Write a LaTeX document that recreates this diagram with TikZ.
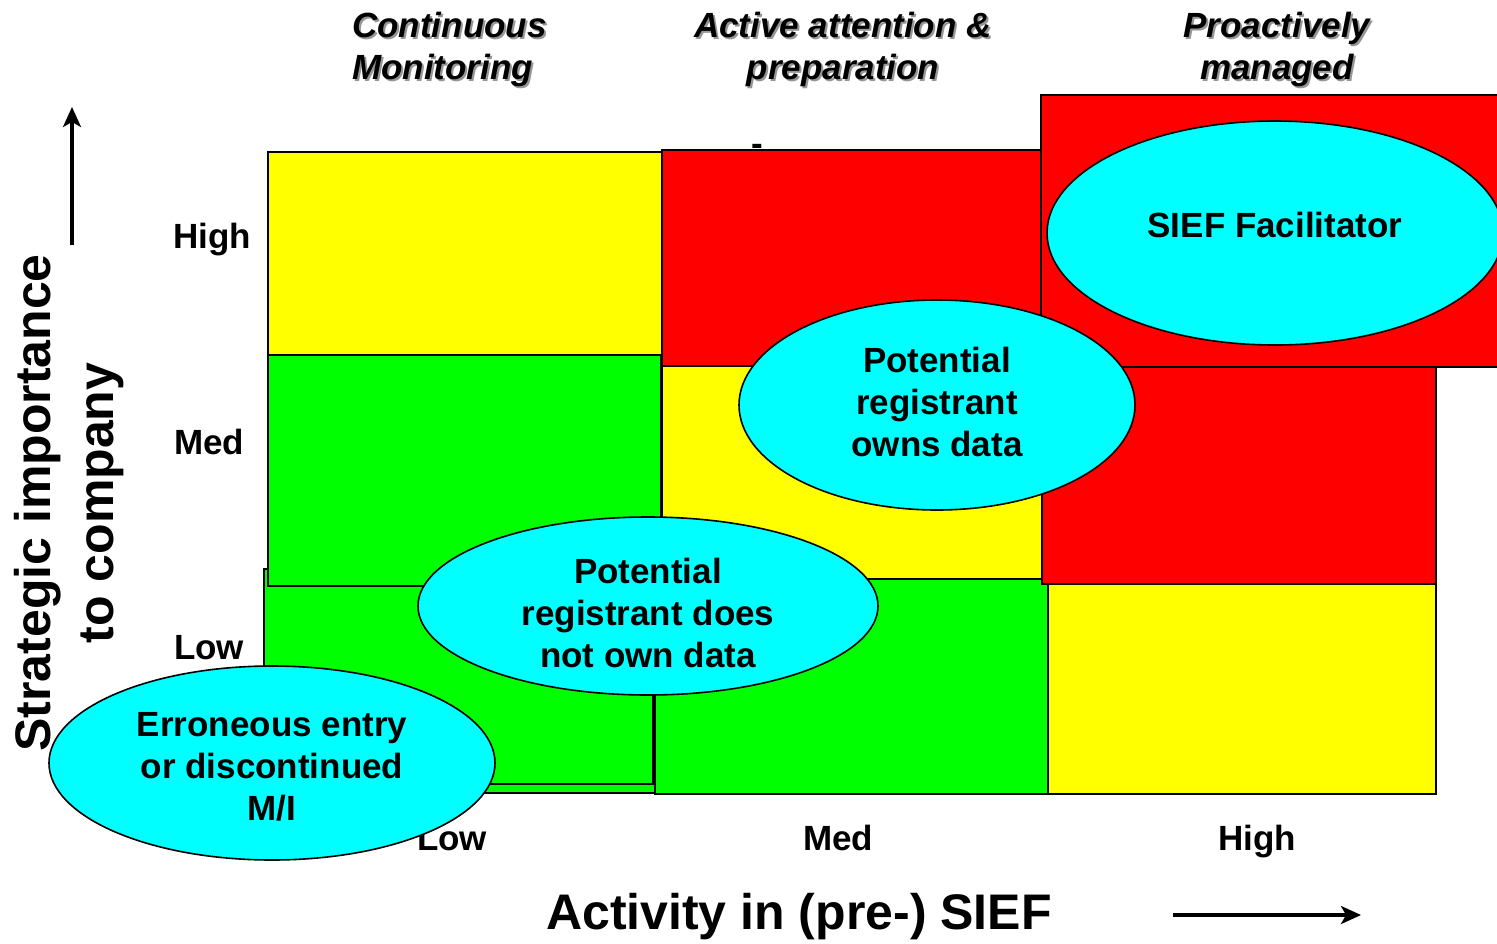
\documentclass[tikz,border=0pt]{standalone}
\usepackage{fontspec}
\setmainfont{Liberation Sans}
\usetikzlibrary{shapes.geometric,arrows.meta}
\definecolor{cYel}{RGB}{255,255,0}
\definecolor{cRed}{RGB}{255,0,0}
\definecolor{cGrn}{RGB}{0,255,0}
\definecolor{cCyn}{RGB}{0,255,255}
\definecolor{cShd}{RGB}{150,150,150}
\newcommand\mylabfont{\bfseries\fontsize{35}{42}\selectfont}
\newcommand\myheadfont{\bfseries\itshape\fontsize{35}{42}\selectfont}
\newcommand\mybigfont{\bfseries\fontsize{50}{63}\selectfont}
\tikzset{
  cell/.style={draw=black, line width=2pt},
  bubble/.style={ellipse, draw=black, line width=1.6pt, fill=cCyn, inner sep=0pt, align=center, font=\mylabfont},
  lab/.style={font=\mylabfont, inner sep=0pt},
  head/.style={font=\myheadfont, inner sep=0pt},
  shadowtxt/.style={head, text=cShd},
  big/.style={font=\mybigfont, inner sep=0pt, align=center},
  axarrow/.style={draw=black, line width=3.2pt, -{Stealth[length=20pt,width=18pt,inset=5pt]}},
}
\begin{document}
\begin{tikzpicture}[x=1pt,y=-1pt]
\useasboundingbox (0,0) rectangle (1497,943);
% grid cells
\fill[white] (0,0) rectangle (1497,943);
\draw[cell, fill=cYel] (268,152) rectangle (662,355);
\draw[cell, fill=cGrn] (264,575) rectangle (655,793);
\draw[cell, fill=cGrn] (264,569) rectangle (653,784);
\draw[cell, fill=cGrn] (268,355) rectangle (661,586);
\draw[cell, fill=cRed] (662,150) rectangle (1042,366);
\draw[cell, fill=cYel] (662,366) rectangle (1042,580);
\draw[cell, fill=cGrn] (655,579) rectangle (1048,794);
\draw[cell, fill=cRed] (1042,367) rectangle (1436,584);
\draw[cell, fill=cYel] (1048,584) rectangle (1436,794);
\draw[cell, fill=cRed] (1041,95) rectangle (1515,367);
\node[lab] (dash) at (757,150) {-};
% column headers
\node[shadowtxt, align=left, anchor=west] (h1s) at (354,51) {Continuous\\Monitoring};
\node[head, align=left, anchor=west] (h1) at (352,49) {Continuous\\Monitoring};
\node[shadowtxt, align=center] (h2s) at (845,51) {Active attention \&\\preparation};
\node[head, align=center] (h2) at (843,49) {Active attention \&\\preparation};
\node[shadowtxt, align=center] (h3s) at (1279,51) {Proactively\\managed};
\node[head, align=center] (h3) at (1277,49) {Proactively\\managed};
% row labels
\node[lab, anchor=base] (rhigh) at (212,248) {High};
\node[lab, anchor=base] (rmed) at (209,454) {Med};
\node[lab, anchor=base] (rlow) at (209,659) {Low};
% column labels
\node[lab, anchor=base] (clow) at (452,850) {Low};
\node[lab, anchor=base] (cmed) at (838,850) {Med};
\node[lab, anchor=base] (chigh) at (1257,850) {High};
% axis titles
\node[big, rotate=90] (ytitle) at (69,503) {Strategic importance\\to company};
\node[big, anchor=base] (xtitle) at (799,929) {Activity in (pre-) SIEF};
% axis arrows
\coordinate (ya) at (72,245);
\coordinate (yb) at (72,107);
\draw[axarrow] (ya) -- (yb);
\coordinate (xa) at (1173,915);
\coordinate (xb) at (1361,915);
\draw[axarrow] (xa) -- (xb);
% bubbles
\node[bubble, minimum width=456pt, minimum height=224pt, text depth=16pt] (sief) at (1275,233) {SIEF Facilitator};
\node[bubble, minimum width=396pt, minimum height=210pt] (owns) at (937,405) {Potential\\registrant\\owns data\rule[-6pt]{0pt}{6pt}};
\node[bubble, minimum width=460pt, minimum height=178pt] (notown) at (648,606) {\rule{0pt}{40pt}Potential\\registrant does\\not own data};
\node[bubble, minimum width=446pt, minimum height=194pt] (err) at (272,763) {\rule{0pt}{32pt}Erroneous entry\\or discontinued\\M/I};
\end{tikzpicture}
\end{document}
